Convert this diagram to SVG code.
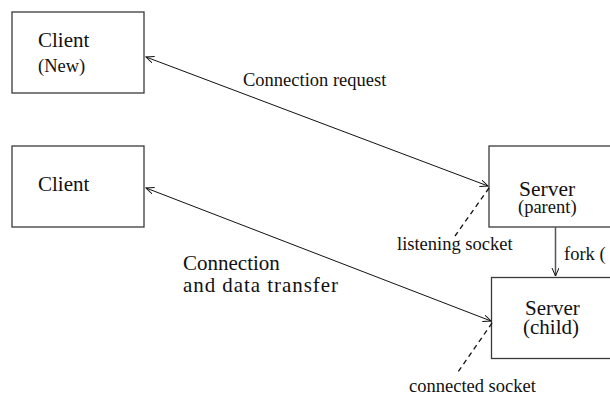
<svg xmlns="http://www.w3.org/2000/svg" width="610" height="398" viewBox="0 0 610 398">
  <defs>
    <style>
      .box { fill: #ffffff; stroke: #3a3a3a; stroke-width: 1.3; }
      .lbl { font-family: "Liberation Serif", "Times New Roman", serif; fill: #111111; }
      .link { fill: none; stroke: #111111; stroke-width: 1; }
      .dash { fill: none; stroke: #111111; stroke-width: 1.3; stroke-dasharray: 5 4; }
      .fork { fill: none; stroke: #555555; stroke-width: 1.5; }
    </style>
    <marker id="vhead" markerWidth="10" markerHeight="8" refX="8" refY="3.5" orient="auto-start-reverse" markerUnits="userSpaceOnUse">
      <path d="M0,0 L8,3.5 L0,7" fill="none" stroke="#111111" stroke-width="1"/>
    </marker>
  </defs>

  <rect width="610" height="398" fill="#ffffff"/>

  <!-- client processes -->
  <g id="client-new">
    <rect class="box" x="12" y="12" width="132" height="81"/>
    <text class="lbl" x="38" y="47" font-size="21">Client</text>
    <text class="lbl" x="38" y="72" font-size="18.5">(New)</text>
  </g>

  <g id="client">
    <rect class="box" x="12" y="146" width="132" height="81"/>
    <text class="lbl" x="38" y="191" font-size="21">Client</text>
  </g>

  <!-- server processes (running off the right edge) -->
  <g id="server-parent">
    <rect class="box" x="489" y="146" width="130" height="81"/>
    <text class="lbl" x="519" y="196" font-size="21.5">Server</text>
    <text class="lbl" x="518" y="213" font-size="18.5">(parent)</text>
  </g>

  <g id="server-child">
    <rect class="box" x="491.5" y="277.5" width="130" height="81"/>
    <text class="lbl" x="525" y="315" font-size="21">Server</text>
    <text class="lbl" x="523" y="334" font-size="21">(child)</text>
  </g>

  <!-- connectors -->
  <g id="connectors">
    <line class="link" x1="146" y1="57" x2="488" y2="186" marker-start="url(#vhead)" marker-end="url(#vhead)"/>
    <line class="link" x1="146" y1="188" x2="491" y2="321" marker-start="url(#vhead)" marker-end="url(#vhead)"/>
    <line class="fork" x1="555.5" y1="227" x2="555.5" y2="276" marker-end="url(#vhead)"/>
    <line class="dash" x1="489" y1="188" x2="455" y2="236"/>
    <line class="dash" x1="492" y1="323" x2="458" y2="372"/>
  </g>

  <!-- connector labels -->
  <g id="labels">
    <text class="lbl" x="243" y="86" font-size="18.5">Connection request</text>
    <text class="lbl" x="183" y="270" font-size="21">Connection</text>
    <text class="lbl" x="183" y="292" font-size="21" textLength="155" lengthAdjust="spacing">and data transfer</text>
    <text class="lbl" x="397" y="250" font-size="18.5">listening socket</text>
    <text class="lbl" x="564" y="260" font-size="18.5">fork (</text>
    <text class="lbl" x="409" y="392" font-size="18.5">connected socket</text>
  </g>
</svg>
